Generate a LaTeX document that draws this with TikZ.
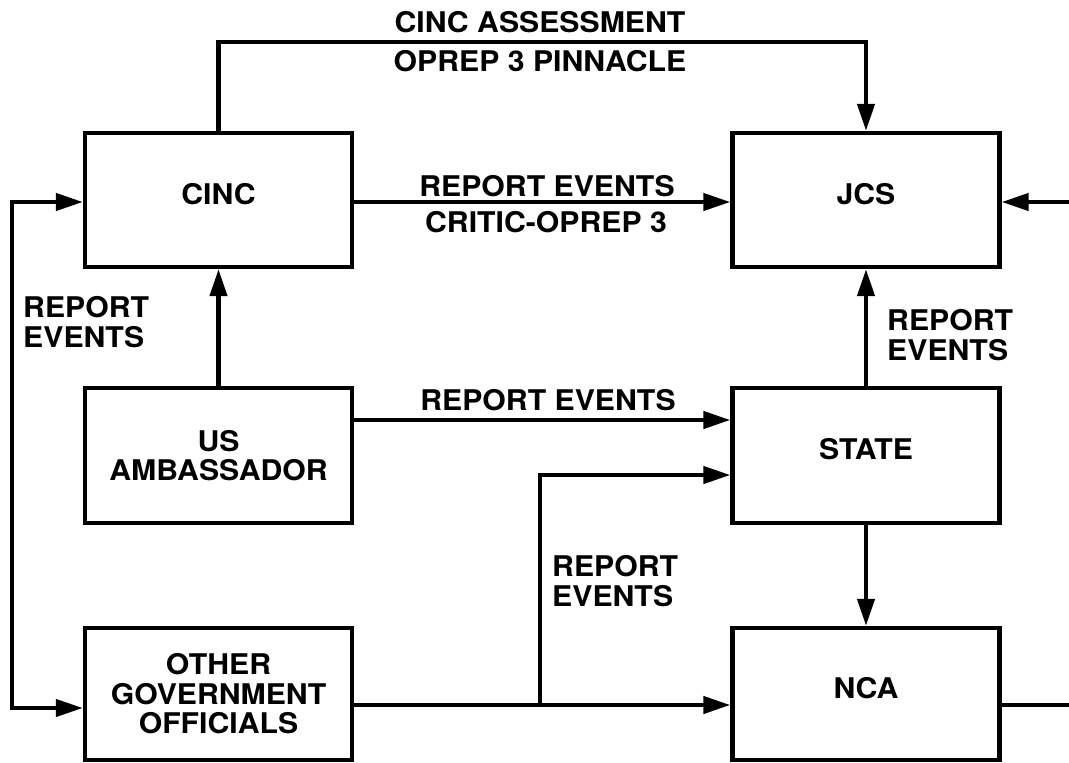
\documentclass[tikz,border=0pt]{standalone}
\usepackage{fontspec}
\setmainfont{TeX Gyre Heros}[FakeStretch=1.06]
\usetikzlibrary{arrows.meta}
\begin{document}
\begin{tikzpicture}[x=1pt,y=-1pt,
  txt/.style={font=\fontsize{28.5}{29.5}\selectfont\bfseries, inner sep=0pt},
  box/.style={txt, draw, line width=4.3pt, minimum width=267pt, align=center},
  single/.style={text depth=13pt},
  conn/.style={line width=4.3pt},
  arr/.style={conn, -{Triangle[length=27pt,width=17pt]}},
  arrboth/.style={conn, {Triangle[length=27pt,width=17pt]}-{Triangle[length=27pt,width=17pt]}}]
\fill[white] (0,0) rectangle (1069,763);
\useasboundingbox (0,0) rectangle (1069,763);
\clip (0,0) rectangle (1069,763);
% boxes
\node[box, single, minimum height=134pt] (cinc) at (218.5,200) {CINC};
\node[box, single, minimum height=134pt] (jcs) at (866,200) {JCS};
\node[box, minimum height=135pt] (amb) at (218.5,455.5) {US\\AMBASSADOR};
\node[box, single, minimum height=135pt] (state) at (866,455.5) {STATE};
\node[box, minimum height=132pt] (other) at (218.5,694) {OTHER\\GOVERNMENT\\OFFICIALS};
\node[box, single, minimum height=132pt] (nca) at (866,694) {NCA};
% helper coordinates
\coordinate (top) at (540,42);
\coordinate (yamb) at (0,420);
\coordinate (ybr) at (0,475);
\coordinate (br) at (540,705);
\coordinate (L1) at (12,202);
\coordinate (L2) at (12,708);
\coordinate (R1) at (1075,202);
\coordinate (R2) at (1075,705);
% connectors
\draw[arr] (cinc.north) |- (top -| jcs.north) -- (jcs.north);
\draw[arr] (cinc.east |- L1) -- (jcs.west |- L1);
\draw[arr] (amb.north) -- (cinc.south);
\draw[arr] (amb.east |- yamb) -- (state.west |- yamb);
\draw[arr] (other.east |- br) -- (nca.west |- br);
\draw[arr] (br) |- (state.west |- ybr);
\draw[arr] (state.north) -- (jcs.south);
\draw[arr] (state.south) -- (nca.north);
\draw[arrboth] (cinc.west |- L1) -- (L1) -- (L2) -- (other.west |- L2);
\draw[conn] (nca.east |- R2) -- (R2);
\draw[arr] (R1) -- (jcs.east |- R1);
% labels
\node[txt] (l1) at (540,22) {CINC ASSESSMENT};
\node[txt] (l2) at (540,61) {OPREP 3 PINNACLE};
\node[txt] (l3) at (547,186) {REPORT EVENTS};
\node[txt] (l4) at (546,222) {CRITIC-OPREP 3};
\node[txt] (l5) at (548,400) {REPORT EVENTS};
\node[txt, align=left, anchor=west] (l6) at (23,322) {REPORT\\EVENTS};
\node[txt, align=left, anchor=west] (l7) at (887,335) {REPORT\\EVENTS};
\node[txt, align=left, anchor=west] (l8) at (552,581) {REPORT\\EVENTS};
\end{tikzpicture}
\end{document}
